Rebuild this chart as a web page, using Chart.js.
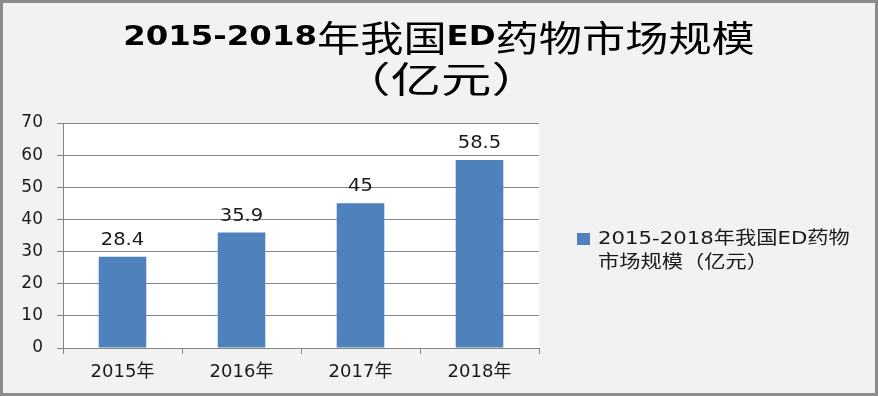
<!DOCTYPE html>
<html>
<head>
<meta charset="utf-8">
<script src="https://cdn.jsdelivr.net/npm/chart.js@4"></script>
<style>
  html, body { margin: 0; padding: 0; background: #f2f2f2; }
  #wrap { width: 878px; height: 396px; }
</style>
</head>
<body>
<div id="wrap"><canvas id="chart" width="878" height="396"></canvas></div>
<script>
const titleLines = ["2015-2018年我国ED药物市场规模", "（亿元）"];
const years = ["2015年", "2016年", "2017年", "2018年"];
const marketSize = [28.4, 35.9, 45, 58.5];
const seriesName = "2015-2018年我国ED药物市场规模（亿元）";
const legendLines = ["2015-2018年我国ED药物", "市场规模（亿元）"];

const FONT = '"DejaVu Sans", "Noto Sans CJK SC", sans-serif';
const CJK = '"Noto Sans CJK SC", sans-serif';

// the source picture is a bit wider than tall, so text drawn here gets a horizontal stretch
function drawWide(ctx, text, x, y, font, sx, align) {
  ctx.save();
  ctx.font = font;
  ctx.textAlign = align;
  ctx.translate(x, y);
  ctx.scale(sx, 1);
  ctx.fillText(text, 0, 0);
  ctx.restore();
}

// title: bold latin runs, regular CJK runs
function drawTitleLine(ctx, text, cx, y, sx) {
  const runs = text.match(/[\x00-\x7f]+|[^\x00-\x7f]+/g);
  const fontFor = (r) => (/^[\x00-\x7f]/.test(r) ? 'bold 27px "DejaVu Sans", sans-serif' : "36px " + CJK);
  let total = 0;
  runs.forEach((r) => {
    ctx.font = fontFor(r);
    total += ctx.measureText(r).width;
  });
  ctx.save();
  ctx.translate(cx, y);
  ctx.scale(sx, 1);
  ctx.textAlign = "left";
  let x = -total / 2;
  runs.forEach((r) => {
    ctx.font = fontFor(r);
    ctx.fillText(r, x, 0);
    x += ctx.measureText(r).width;
  });
  ctx.restore();
}

// gray frame, light background, white plot area
const backdrop = {
  id: "backdrop",
  beforeDraw(chart) {
    const { ctx, chartArea } = chart;
    ctx.save();
    ctx.fillStyle = "#f2f2f2";
    ctx.fillRect(0, 0, chart.width, chart.height);
    ctx.fillStyle = "#ffffff";
    ctx.fillRect(chartArea.left, chartArea.top, chartArea.right - chartArea.left, chartArea.bottom - chartArea.top);
    ctx.strokeStyle = "#8c8c8c";
    ctx.lineWidth = 3;
    ctx.strokeRect(1.5, 1.5, chart.width - 3, chart.height - 3);
    ctx.restore();
  },
};

const extras = {
  id: "extras",
  afterDraw(chart) {
    const { ctx } = chart;
    ctx.save();
    ctx.fillStyle = "#000000";
    ctx.textBaseline = "middle";
    drawTitleLine(ctx, titleLines[0], 439, 38, 1.2);
    drawTitleLine(ctx, titleLines[1], 441, 79, 1.4);

    // value labels
    ctx.fillStyle = "#1a1a1a";
    ctx.textBaseline = "alphabetic";
    const meta = chart.getDatasetMeta(0);
    meta.data.forEach((bar, i) => {
      drawWide(ctx, String(marketSize[i]), bar.x, bar.y - 12, "17px " + FONT, 1.15, "center");
    });

    // legend
    ctx.fillStyle = chart.data.datasets[0].backgroundColor;
    ctx.fillRect(577, 233, 13, 12);
    ctx.fillStyle = "#1a1a1a";
    ctx.textBaseline = "middle";
    drawWide(ctx, legendLines[0], 598, 239, "18px " + FONT, 1.18, "left");
    drawWide(ctx, legendLines[1], 598, 263, "18px " + FONT, 1.18, "left");
    ctx.restore();
  },
};

new Chart(document.getElementById("chart"), {
  type: "bar",
  data: {
    labels: years,
    datasets: [
      {
        label: seriesName,
        data: marketSize,
        backgroundColor: "#4f81bd",
        barPercentage: 0.4,
        categoryPercentage: 1,
      },
    ],
  },
  options: {
    responsive: false,
    animation: false,
    layout: { padding: { left: 0, right: 339, top: 123, bottom: 0 } },
    plugins: {
      legend: { display: false },
      title: { display: false },
      tooltip: { enabled: false },
    },
    scales: {
      x: {
        offset: true,
        grid: {
          offset: true,
          drawOnChartArea: false,
          drawTicks: true,
          tickLength: 6,
          color: "#868686",
        },
        border: { color: "#868686" },
        ticks: { color: "#1a1a1a", font: { family: FONT, size: 18 }, padding: 8 },
        afterFit(scale) { scale.height = 48; },
      },
      y: {
        min: 0,
        max: 70,
        ticks: { stepSize: 10, color: "#1a1a1a", font: { family: FONT, size: 17 }, padding: 14 },
        grid: { color: "#868686", tickLength: 6 },
        border: { color: "#868686" },
        afterFit(scale) { scale.width = 63; },
      },
    },
  },
  plugins: [backdrop, extras],
});
</script>
</body>
</html>
